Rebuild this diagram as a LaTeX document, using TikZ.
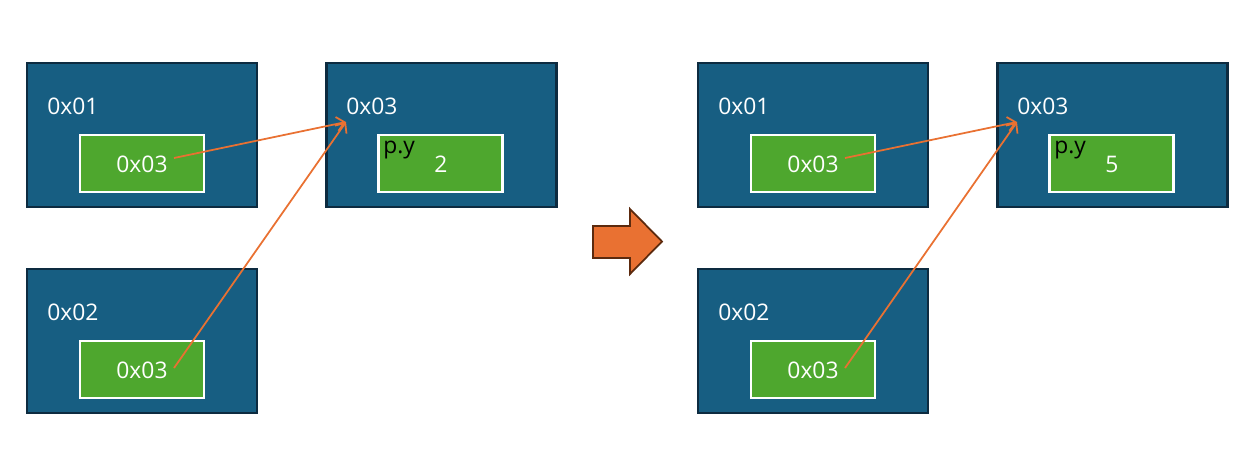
\documentclass[tikz,border=0pt]{standalone}
\usepackage{fontspec}
\usetikzlibrary{arrows.meta}
\setmainfont{Open Sans}
\definecolor{boxblue}{HTML}{175E82}
\definecolor{boxedge}{HTML}{0D2B40}
\definecolor{fieldgreen}{HTML}{4EA72E}
\definecolor{ptrorange}{HTML}{E97132}
\definecolor{bigarrowedge}{HTML}{5C2A0E}
\tikzset{
  objbox/.style={draw=boxedge, fill=boxblue, line width=1.2pt, minimum width=4.6cm, minimum height=2.88cm},
  field/.style={draw=white, fill=fieldgreen, line width=1.4pt, minimum width=2.48cm, minimum height=1.14cm},
  addr/.style={text=white, anchor=west, inner sep=0pt, font=\fontsize{13}{15}\selectfont},
  val/.style={text=white, inner sep=0pt, font=\fontsize{13}{15}\selectfont},
  ptr/.style={draw=ptrorange, line width=1pt, -{Straight Barb[length=4.5pt, width=8pt]}}
}
\begin{document}
\begin{tikzpicture}[x=0.02cm, y=-0.02cm]
            \useasboundingbox (0, 0) rectangle (1250, 451);
            % before
            \node[objbox] (obja) at (142, 135) {};
            \node[objbox] (objc) at (441.5, 135) {};
            \node[objbox] (objb) at (142, 341) {};
            \node[addr] (addra) at (47, 106) {0x01};
            \node[addr] (addrc) at (346, 106) {0x03};
            \node[addr] (addrb) at (47, 312) {0x02};
            \node[field] (fielda) at (142, 163.5) {};
            \node[field] (fieldc) at (440.5, 163.5) {};
            \node[field] (fieldb) at (142, 369.5) {};
            \node[val] (vala) at (142, 164) {0x03};
            \node[val] (valb) at (142, 370) {0x03};
            \node[val] (valc) at (441, 164) {2};
            \node[anchor=west, inner sep=0pt, font=\fontsize{13}{15}\selectfont] (namec) at (383, 150) {p.y};
            \coordinate (froma) at (174, 158);
            \coordinate (fromb) at (174, 368);
            \coordinate (toc) at (346, 122);
            \draw[ptr] (froma) -- (toc);
            \draw[ptr] (fromb) -- (toc);
            % big arrow
            \draw[fill=ptrorange, draw=bigarrowedge, line width=1pt] (593, 226) -- (630, 226) -- (630, 209) -- (662, 241.5) -- (630, 274) -- (630, 258) -- (593, 258) -- cycle;
            % after
            \node[objbox] (objaa) at (813, 135) {};
            \node[objbox] (objcc) at (1112.5, 135) {};
            \node[objbox] (objbb) at (813, 341) {};
            \node[addr] (addraa) at (718, 106) {0x01};
            \node[addr] (addrcc) at (1017, 106) {0x03};
            \node[addr] (addrbb) at (718, 312) {0x02};
            \node[field] (fieldaa) at (813, 163.5) {};
            \node[field] (fieldcc) at (1111.5, 163.5) {};
            \node[field] (fieldbb) at (813, 369.5) {};
            \node[val] (valaa) at (813, 164) {0x03};
            \node[val] (valbb) at (813, 370) {0x03};
            \node[val] (valcc) at (1112, 164) {5};
            \node[anchor=west, inner sep=0pt, font=\fontsize{13}{15}\selectfont] (namecc) at (1054, 150) {p.y};
            \coordinate (fromaa) at (845, 158);
            \coordinate (frombb) at (845, 368);
            \coordinate (tocc) at (1017, 122);
            \draw[ptr] (fromaa) -- (tocc);
            \draw[ptr] (frombb) -- (tocc);
        \end{tikzpicture}
\end{document}
